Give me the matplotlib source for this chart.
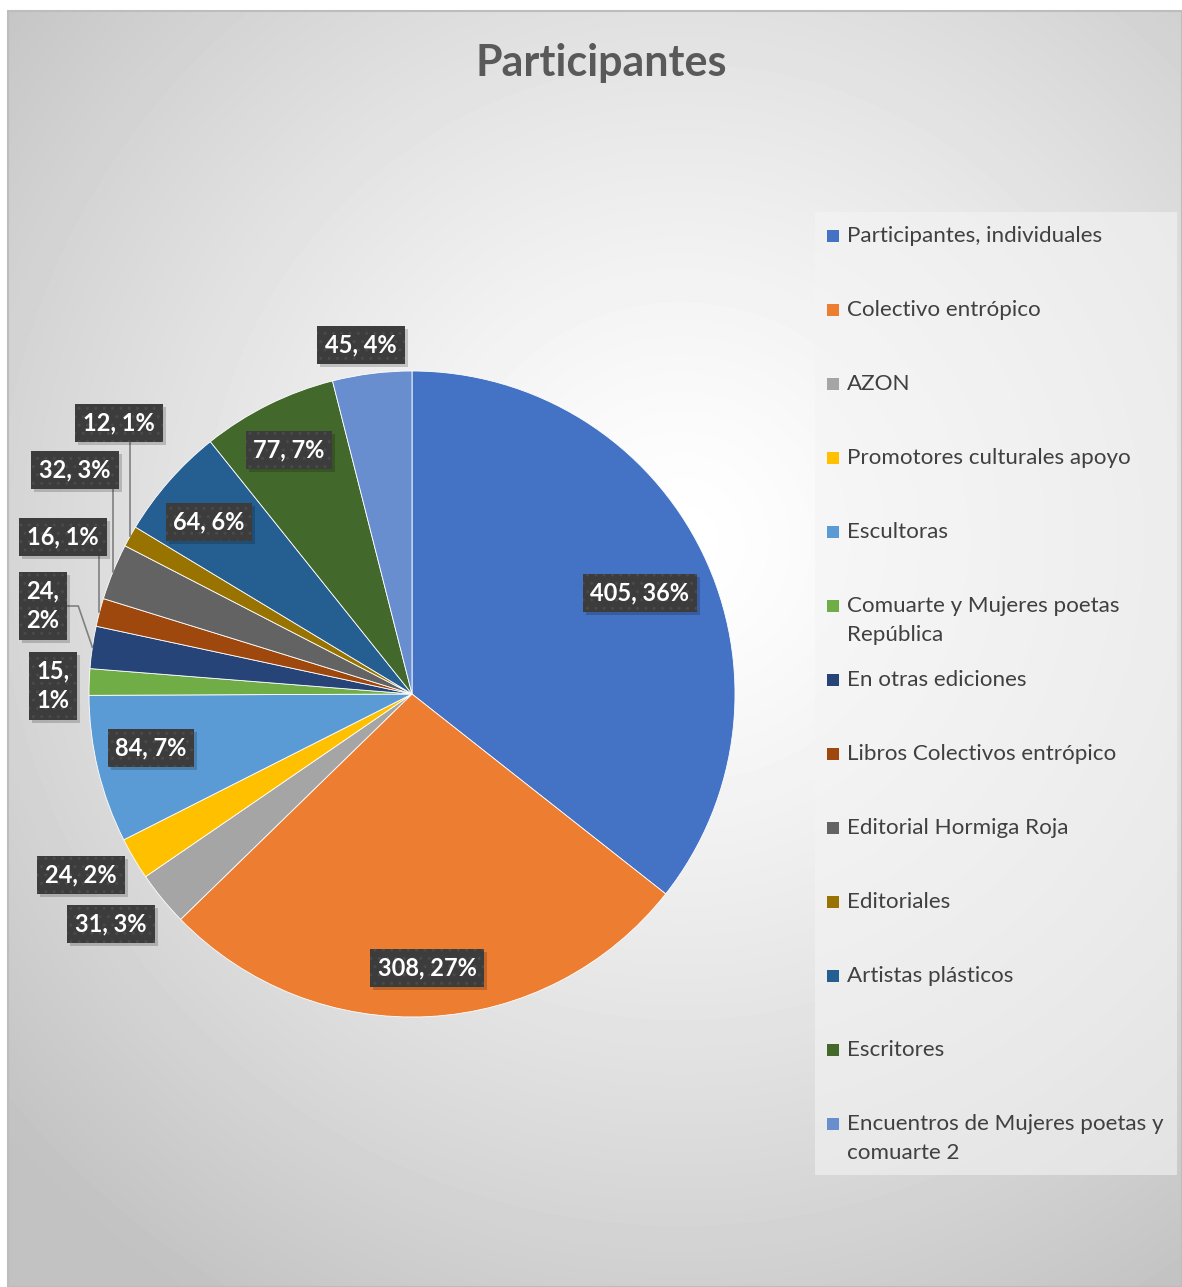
import numpy as np
import matplotlib
matplotlib.use("Agg")
import matplotlib.pyplot as plt
from matplotlib.patches import Rectangle

# ---------------- data ----------------
categories = [
    "Participantes, individuales",
    "Colectivo entrópico",
    "AZON",
    "Promotores culturales apoyo",
    "Escultoras",
    "Comuarte y Mujeres poetas República",
    "En otras ediciones",
    "Libros Colectivos entrópico",
    "Editorial Hormiga Roja",
    "Editoriales",
    "Artistas plásticos",
    "Escritores",
    "Encuentros de Mujeres poetas y comuarte 2",
]
legend_lines = [
    ["Participantes, individuales"],
    ["Colectivo entrópico"],
    ["AZON"],
    ["Promotores culturales apoyo"],
    ["Escultoras"],
    ["Comuarte y Mujeres poetas", "República"],
    ["En otras ediciones"],
    ["Libros Colectivos entrópico"],
    ["Editorial Hormiga Roja"],
    ["Editoriales"],
    ["Artistas plásticos"],
    ["Escritores"],
    ["Encuentros de Mujeres poetas y", "comuarte 2"],
]
values = [405, 308, 31, 24, 84, 15, 24, 16, 32, 12, 64, 77, 45]
title = "Participantes"

colors = ["#4472C4", "#ED7D31", "#A5A5A5", "#FFC000", "#5B9BD5", "#70AD47",
          "#264478", "#9E480E", "#636363", "#997300", "#255E91", "#43682B",
          "#698ED0"]

# label layout (pixel centres of label boxes) and wrapping
label_pos = [(640, 593), (427, 968), (111, 924), (81, 875), (151, 748),
             (53, 686), (43, 606), (63, 537), (75, 470), (119, 423),
             (209, 522), (289, 450), (361, 345)]
label_wrap = [False, False, False, False, False, True, True, False, False,
              False, False, False, False]
leader = [False, False, False, False, False, False, True, True, True, True,
          False, False, False]

W, H = 1182, 1287
FONT = "Lato"
plt.rcParams["font.family"] = [FONT, "DejaVu Sans"]
plt.rcParams["hatch.linewidth"] = 1.0

fig = plt.figure(figsize=(W / 100, H / 100), dpi=100)
fig.patch.set_facecolor("white")
ax = fig.add_axes([0, 0, 1, 1])

# background radial gradient (chart area)
x0, y0, x1, y1 = 8, 11, W, H
yy, xx = np.mgrid[y0:y1:4, x0:x1:4]
d = np.hypot(xx - 680, yy - 540) / 900.0
v = 1.0 - 0.24 * np.clip(d, 0, 1) ** 1.3
ax.imshow(v, cmap="gray", vmin=0, vmax=1, extent=(x0, x1, y1, y0),
          aspect="auto", zorder=0, interpolation="bilinear")
ax.add_patch(Rectangle((x0, y0), x1 - x0, y1 - y0, fill=False,
                       ec="#BDBDBD", lw=1.5, zorder=1))

# pie (pixel coordinates, y axis downward)
cx, cy, R = 412, 694, 323
wedges, _ = ax.pie(values, colors=colors, startangle=-90, counterclock=True,
                   center=(cx, cy), radius=R,
                   wedgeprops=dict(edgecolor="white", linewidth=0.6),
                   frame=True)
for w in wedges:
    w.set_zorder(2)

ax.set_xlim(0, W)
ax.set_ylim(H, 0)
ax.set_aspect("equal")
ax.axis("off")

total = sum(values)
texts = []
for i, (val, w) in enumerate(zip(values, wedges)):
    pct = round(val / total * 100)
    sep = ",\n" if label_wrap[i] else ", "
    txt = f"{val}{sep}{pct}%"
    lx, ly = label_pos[i]
    t = ax.text(lx, ly, txt, ha="center", va="center", color="white",
                fontsize=17, fontweight="bold", zorder=6, linespacing=1.35,
                bbox=dict(boxstyle="square,pad=0.33", fc="#3C3C3C",
                          ec="#4A4A4A", lw=0, hatch=".."))
    texts.append(t)

fig.canvas.draw()
renderer = fig.canvas.get_renderer()
inv = ax.transData.inverted()
for i, (t, w) in enumerate(zip(texts, wedges)):
    bb = t.get_bbox_patch().get_window_extent(renderer)
    (bx0, by0), (bx1, by1) = inv.transform([[bb.x0, bb.y0], [bb.x1, bb.y1]])
    bl, br = min(bx0, bx1), max(bx0, bx1)
    btop, bbot = min(by0, by1), max(by0, by1)
    # soft drop shadow
    ax.add_patch(Rectangle((bl + 3, btop + 3), br - bl, bbot - btop,
                           fc="black", ec="none", alpha=0.18, zorder=5.5))
    if not leader[i]:
        continue
    ang = np.deg2rad((w.theta1 + w.theta2) / 2)
    px = cx + R * np.cos(ang)
    py = cy + R * np.sin(ang)
    ly = label_pos[i][1]
    if bl <= px <= br:
        ax.plot([px, px], [bbot, py], color="#808080", lw=1.2, zorder=5)
    else:
        ex = br + 11
        ax.plot([br, ex, px], [ly, ly, py], color="#808080", lw=1.2, zorder=5)

# title
ax.text(601, 63, title, ha="center", va="center", fontsize=31,
        fontweight="bold", color="#595959", zorder=6)

# legend
ax.add_patch(Rectangle((815, 212), 362, 963, fc="#F4F4F4", ec="none",
                       alpha=0.6, zorder=3))
ly0, step = 236, 74
for i, lines in enumerate(legend_lines):
    y = ly0 + i * step
    ax.add_patch(Rectangle((827, y - 6), 12, 12, fc=colors[i], ec="none",
                           zorder=4))
    for k, line in enumerate(lines):
        ax.text(847, y + k * 29, line, ha="left", va="center", fontsize=16.1,
                color="#404040", zorder=4)

fig.savefig("out.png", dpi=100, facecolor="white")
